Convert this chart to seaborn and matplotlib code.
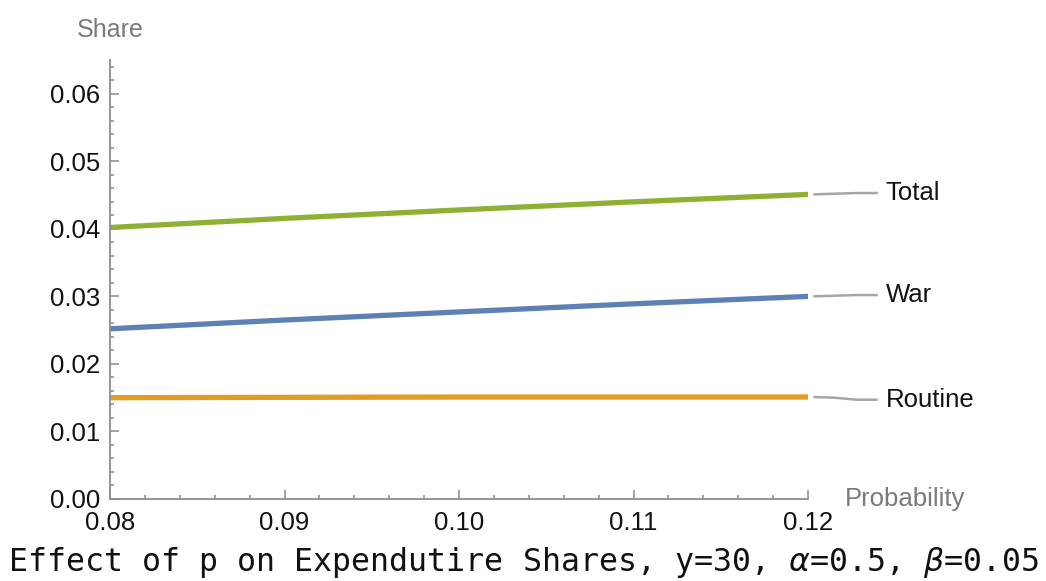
import matplotlib
matplotlib.use("Agg")
import matplotlib.pyplot as plt
from matplotlib.ticker import MultipleLocator
import seaborn as sns
import pandas as pd

# Expenditure shares as the probability of war p varies
probability = [0.08, 0.09, 0.10, 0.11, 0.12]
war = [0.0252, 0.0265, 0.0277, 0.0289, 0.0300]
routine = [0.0150, 0.01505, 0.0151, 0.0151, 0.0151]
total = [0.0402, 0.04155, 0.0428, 0.0440, 0.0451]

series_names = ["Routine", "War", "Total"]
series_values = [routine, war, total]
series_colors = ["#E19C24", "#5E81B5", "#8FB032"]

sns.set_style("ticks")
plt.rcParams["font.family"] = ["Liberation Sans", "DejaVu Sans"]
plt.rcParams["mathtext.fontset"] = "custom"
plt.rcParams["mathtext.it"] = "DejaVu Sans:italic"

frames = []
for name, vals in zip(series_names, series_values):
    frames.append(pd.DataFrame({"p": probability, "share": vals, "series": name}))
df = pd.concat(frames, ignore_index=True)

fig = plt.figure(figsize=(10.46, 5.81), dpi=100)
ax = fig.add_axes([110 / 1046, 1 - 499 / 581, 698 / 1046, (499 - 60) / 581])

sns.lineplot(data=df, x="p", y="share", hue="series", hue_order=series_names,
             palette=series_colors, linewidth=3.8, legend=False, ax=ax)

ax.set_xlim(0.08, 0.12)
ax.set_ylim(0.0, 0.065)
ax.set_xlabel("")
ax.set_ylabel("")

axis_grey = "#8c8c8c"
for side in ["top", "right"]:
    ax.spines[side].set_visible(False)
for side in ["left", "bottom"]:
    ax.spines[side].set_color(axis_grey)
    ax.spines[side].set_linewidth(1.3)

ax.xaxis.set_major_locator(MultipleLocator(0.01))
ax.xaxis.set_minor_locator(MultipleLocator(0.002))
ax.yaxis.set_major_locator(MultipleLocator(0.01))
ax.yaxis.set_minor_locator(MultipleLocator(0.002))
ax.xaxis.set_major_formatter(plt.FormatStrFormatter("%.2f"))
ax.yaxis.set_major_formatter(plt.FormatStrFormatter("%.2f"))

ax.tick_params(which="both", direction="in", color=axis_grey, width=1.1)
ax.tick_params(which="major", length=6.5, labelsize=18.5, labelcolor="#111111")
ax.tick_params(which="minor", length=3.2)
ax.tick_params(axis="y", which="major", pad=7)
ax.tick_params(axis="x", which="major", pad=9)

# Callout labels at the right end of each curve
label_grey = "#a6a6a6"
leader_shape = {
    "Total": [0.0, 0.0001, 0.0002, 0.0002],
    "War": [0.0, 0.0001, 0.0002, 0.0002],
    "Routine": [0.0, -0.0001, -0.0004, -0.0004],
}
leader_x = [0.1203, 0.1215, 0.1228, 0.1240]
for name, vals in zip(series_names, series_values):
    y_end = vals[-1]
    ys = [y_end + d for d in leader_shape[name]]
    ax.plot(leader_x, ys, color=label_grey, lw=1.8, clip_on=False,
            solid_capstyle="butt", solid_joinstyle="round")
    ax.text(0.12445, ys[-1], name, fontsize=18.5, color="#111111",
            ha="left", va="center", clip_on=False)

text_grey = "#7a7a7a"
fig.text(110 / 1046, 1 - 30 / 581, "Share", fontsize=18, color=text_grey,
         ha="center", va="center")
fig.text(845 / 1046, 1 - 499 / 581, "Probability", fontsize=18.5, color=text_grey,
         ha="left", va="center")

fig.text(523 / 1046, 1 - 563 / 581,
         r"Effect of p on Expendutire Shares, y=30, $\alpha$=0.5, $\beta$=0.05",
         family="DejaVu Sans Mono", fontsize=22.8, color="#111111",
         ha="center", va="center")

fig.savefig("out.png", dpi=100, facecolor="white")
